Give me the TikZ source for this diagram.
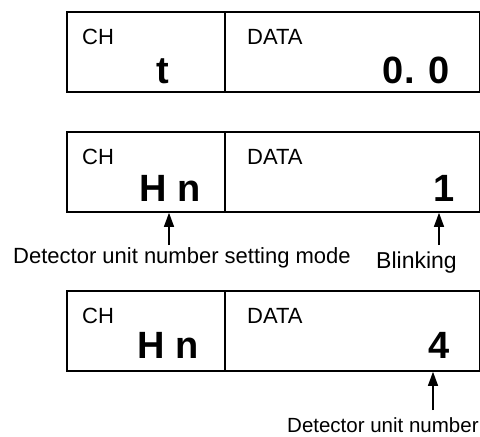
\documentclass[tikz,border=0pt]{standalone}
\usepackage{fontspec}
\setmainfont{Liberation Sans}
\usetikzlibrary{arrows.meta}
\begin{document}
\begin{tikzpicture}[x=1pt,y=-1pt,
  box/.style={draw,line width=1.8pt,rectangle,minimum width=413pt,minimum height=80pt,inner sep=0pt,anchor=north west},
  div/.style={line width=1.8pt},
  lbl/.style={font=\fontsize{22}{24}\selectfont,inner sep=0pt,anchor=base west},
  val/.style={font=\fontsize{38}{40}\selectfont\bfseries,inner sep=0pt,anchor=base east},
  note/.style={inner sep=0pt,anchor=base west},
  arr/.style={line width=1.3pt,-{Triangle[length=14pt,width=10pt]}}]
\useasboundingbox (0,0) rectangle (480,437);
% box 1
\node[box] (b1) at (66,11) {};
\draw[div] ([xshift=159pt]b1.north west) -- ([xshift=159pt]b1.south west);
\node[lbl] (ch1) at (82,44) {CH};
\node[lbl] (da1) at (247,44) {DATA};
\node[val,anchor=base] (c1) at (162.5,83) {t};
\node[val] (d1) at (450,83) {0. 0};
% box 2
\node[box] (b2) at (66,131) {};
\draw[div] ([xshift=159pt]b2.north west) -- ([xshift=159pt]b2.south west);
\node[lbl] (ch2) at (82,164) {CH};
\node[lbl] (da2) at (247,164) {DATA};
\node[val] (c2) at (201,201) {H n};
\node[val] (d2) at (455,201) {1};
% box 3
\node[box] (b3) at (66,290) {};
\draw[div] ([xshift=159pt]b3.north west) -- ([xshift=159pt]b3.south west);
\node[lbl] (ch3) at (82,323) {CH};
\node[lbl] (da3) at (247,323) {DATA};
\node[val] (c3) at (199,358) {H n};
\node[val] (d3) at (450,358) {4};
% annotations
\node[note,font=\fontsize{22}{24}\selectfont] (n1) at (13,263) {Detector unit number setting mode};
\node[note,font=\fontsize{23}{25}\selectfont] (n2) at (376,268) {Blinking};
\node[note,font=\fontsize{20.5}{23}\selectfont] (n3) at (287,432) {Detector unit number};
\coordinate (t1) at (169,245);
\coordinate (t2) at (439,245);
\coordinate (t3) at (433,410);
\draw[arr] (t1) -- (t1 |- b2.south);
\draw[arr] (t2) -- (t2 |- b2.south);
\draw[arr] (t3) -- (t3 |- b3.south);
\end{tikzpicture}
\end{document}
